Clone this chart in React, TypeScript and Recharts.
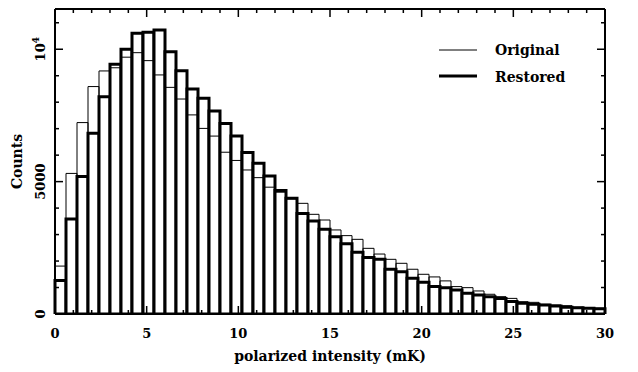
import React from "react"
import { ComposedChart, Bar, XAxis, YAxis, Legend, Label } from "recharts"

// histogram bins, 0.6 mK wide
const binStart = [
  0, 0.6, 1.2, 1.8, 2.4, 3, 3.6, 4.2, 4.8, 5.4, 6, 6.6, 7.2, 7.8, 8.4, 9, 9.6, 10.2, 10.8, 11.4, 12, 12.6, 13.2, 13.8,
  14.4, 15, 15.6, 16.2, 16.8, 17.4, 18, 18.6, 19.2, 19.8, 20.4, 21, 21.6, 22.2, 22.8, 23.4, 24, 24.6, 25.2, 25.8,
  26.4, 27, 27.6, 28.2, 28.8, 29.4,
]

const original = [
  1810, 5310, 7230, 8590, 9180, 9300, 9700, 9870, 9570, 9030, 8560, 8120, 7520, 7010, 6720, 6110, 5800, 5440, 5150,
  4790, 4600, 4350, 4180, 3765, 3550, 3175, 2960, 2820, 2480, 2265, 2065, 1915, 1690, 1500, 1400, 1250, 1035, 995,
  870, 745, 655, 590, 465, 440, 365, 340, 315, 255, 240, 215,
]

const restored = [
  1270, 3590, 5190, 6830, 8210, 9430, 10000, 10600, 10640, 10730, 9910, 9190, 8500, 8150, 7670, 7200, 6720, 6100,
  5690, 5210, 4660, 4370, 3800, 3510, 3200, 2920, 2650, 2330, 2130, 2065, 1690, 1600, 1350, 1200, 1040, 995, 905, 780,
  720, 655, 590, 470, 405, 365, 340, 300, 255, 240, 215, 200,
]

const xMajor = [0, 5, 10, 15, 20, 25, 30]
const xTicks = [
  0, 1, 2, 3, 4, 5, 6, 7, 8, 9, 10, 11, 12, 13, 14, 15, 16, 17, 18, 19, 20, 21, 22, 23, 24, 25, 26, 27, 28, 29, 30,
]
const yMajor = [0, 5000, 10000]
const yTicks = [0, 1000, 2000, 3000, 4000, 5000, 6000, 7000, 8000, 9000, 10000, 11000]

const data = binStart.map((b, i) => ({ bin: b, original: original[i], restored: restored[i] }))

const FONT = '"DejaVu Serif", serif'
const X_DOMAIN: [number, number] = [0, 30]
const Y_DOMAIN: [number, number] = [0, 11520]
const frame = { stroke: "#000", strokeWidth: 2 }
const MAJOR = 8
const MINOR = 4

// tick marks point into the plot, like the original PGPLOT frame
function XTick({ x, y, payload, side }: any) {
  const major = xMajor.includes(payload.value)
  const len = major ? MAJOR : MINOR
  const top = side === "top"
  return (
    <g>
      <line x1={x} x2={x} y1={y} y2={y + (top ? len : -len)} stroke="#000" strokeWidth={1.5} />
      {major && !top && (
        <text x={x} y={y + 24} textAnchor="middle" fontFamily={FONT} fontWeight="bold" fontSize={13} fill="#000">
          {payload.value}
        </text>
      )}
    </g>
  )
}

function YTick({ x, y, payload, side }: any) {
  const v = payload.value
  const major = yMajor.includes(v)
  const len = major ? MAJOR : MINOR
  const left = side === "left"
  return (
    <g>
      <line x1={x} x2={x + (left ? len : -len)} y1={y} y2={y} stroke="#000" strokeWidth={1.5} />
      {major && left && (
        <text
          transform={`translate(${x - 10},${y}) rotate(-90)`}
          textAnchor="middle"
          fontFamily={FONT}
          fontWeight="bold"
          fontSize={13}
          fill="#000"
        >
          {v === 10000 ? (
            <>
              <tspan>10</tspan>
              <tspan dy={-6} fontSize={9}>4</tspan>
            </>
          ) : (
            v
          )}
        </text>
      )}
    </g>
  )
}

function LegendBox() {
  return (
    <svg width={140} height={50}>
      <line x1={4} x2={42} y1={12} y2={12} stroke="#000" strokeWidth={1} />
      <text x={60} y={17} fontFamily={FONT} fontWeight="bold" fontSize={14} fill="#000">
        Original
      </text>
      <line x1={4} x2={42} y1={38} y2={38} stroke="#000" strokeWidth={3} />
      <text x={60} y={44} fontFamily={FONT} fontWeight="bold" fontSize={14} fill="#000">
        Restored
      </text>
    </svg>
  )
}

export default function App() {
  return (
    <div style={{ position: "absolute", left: 0, top: 0, background: "#fff" }}>
      <ComposedChart
        width={638}
        height={372}
        data={data}
        margin={{ top: 8, right: 32, left: 0, bottom: 0 }}
        barCategoryGap={0}
        barGap={0}
      >
        <XAxis
          xAxisId="a"
          dataKey="bin"
          type="number"
          domain={X_DOMAIN}
          allowDataOverflow
          ticks={xTicks}
          interval={0}
          height={58}
          tickSize={0}
          tickMargin={0}
          tickLine={false}
          axisLine={frame}
          tick={<XTick side="bottom" />}
        >
          <Label
            content={(props: any) => {
              const vb = props.viewBox
              return (
                <text
                  x={vb.x + vb.width / 2}
                  y={vb.y + 47}
                  textAnchor="middle"
                  fontFamily={FONT}
                  fontWeight="bold"
                  fontSize={14}
                  fill="#000"
                >
                  polarized intensity (mK)
                </text>
              )
            }}
          />
        </XAxis>
        <XAxis
          xAxisId="b"
          orientation="top"
          dataKey="bin"
          type="number"
          domain={X_DOMAIN}
          allowDataOverflow
          ticks={xTicks}
          interval={0}
          height={1}
          tickSize={0}
          tickMargin={0}
          tickLine={false}
          axisLine={frame}
          tick={<XTick side="top" />}
        />
        {/* hidden band axes so the two histograms overlay each other */}
        <XAxis xAxisId="zr" dataKey="bin" type="category" hide height={1} />
        <XAxis xAxisId="zo" dataKey="bin" type="category" hide height={1} />

        <YAxis
          yAxisId="y"
          orientation="left"
          type="number"
          domain={Y_DOMAIN}
          allowDataOverflow
          ticks={yTicks}
          interval={0}
          width={55}
          tickSize={0}
          tickMargin={0}
          tickLine={false}
          axisLine={frame}
          tick={<YTick side="left" />}
        >
          <Label
            content={(props: any) => {
              const vb = props.viewBox
              return (
                <text
                  transform={`translate(${vb.x + 22},${vb.y + vb.height / 2}) rotate(-90)`}
                  textAnchor="middle"
                  fontFamily={FONT}
                  fontWeight="bold"
                  fontSize={14}
                  fill="#000"
                >
                  Counts
                </text>
              )
            }}
          />
        </YAxis>
        <YAxis
          yAxisId="right"
          orientation="right"
          type="number"
          domain={Y_DOMAIN}
          allowDataOverflow
          ticks={yTicks}
          interval={0}
          width={1}
          tickSize={0}
          tickMargin={0}
          tickLine={false}
          axisLine={frame}
          tick={<YTick side="right" />}
        />

        <Legend
          layout="vertical"
          align="center"
          verticalAlign="middle"
          content={() => <LegendBox />}
          wrapperStyle={{ position: "absolute", left: 435, top: 38, width: 140, height: 50 }}
        />

        <Bar
          xAxisId="zr"
          yAxisId="y"
          dataKey="restored"
          name="Restored"
          fill="#fff"
          stroke="#000"
          strokeWidth={3}
          isAnimationActive={false}
        />
        <Bar
          xAxisId="zo"
          yAxisId="y"
          dataKey="original"
          name="Original"
          fill="none"
          stroke="#000"
          strokeWidth={1}
          isAnimationActive={false}
        />
      </ComposedChart>
    </div>
  )
}
